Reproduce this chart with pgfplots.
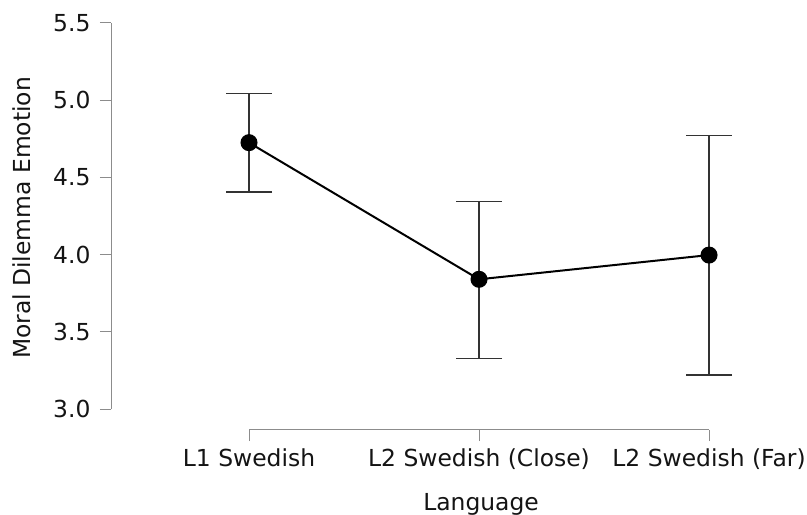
\documentclass[border=0pt]{standalone}
\usepackage{pgfplots}
\pgfplotsset{compat=1.18}
\usepackage{fontspec}
\setmainfont{DejaVu Sans}
\begin{document}
\begin{tikzpicture}
\begin{axis}[
  at={(111bp,85bp)}, anchor=south west,
  scale only axis, width=679bp, height=407bp,
  xmin=-0.6, xmax=2.352, ymin=2.864, ymax=5.5,
  clip=false,
  axis x line*=bottom, axis y line*=left,
  axis line style={draw=none},
  xtick={0,1,2},
  xticklabels={L1 Swedish, L2 Swedish (Close), L2 Swedish (Far)},
  ytick={3,3.5,4,4.5,5,5.5},
  /pgf/number format/assume math mode=true,
  tick align=outside, major tick length=11bp,
  tick style={draw=black!45, line width=1bp},
  ticklabel style={font=\fontsize{23.5}{28}\selectfont, text=black!92},
  yticklabel style={xshift=-6bp, /pgf/number format/fixed, /pgf/number format/fixed zerofill, /pgf/number format/precision=1},
  xticklabel style={yshift=-4bp},
  label style={font=\fontsize{23.5}{28}\selectfont, text=black!92},
  xlabel={Language}, ylabel={Moral Dilemma Emotion},
  xlabel style={at={(axis description cs:0.545,-0.1975)}, anchor=base},
  ylabel style={at={(axis description cs:-0.1183,0.521)}, anchor=base, rotate=0},
]
\draw[black!45, line width=1bp] (axis cs:-0.6,3) -- (axis cs:-0.6,5.5);
\draw[black!45, line width=1bp] (axis cs:0,2.864) -- (axis cs:2,2.864);
\addplot[black, line width=2bp, mark=*, mark size=7.5bp, mark options={fill=black},
  error bars/.cd, y dir=both, y explicit,
  error bar style={line width=1.4bp, color=black!80},
  error mark options={rotate=90, mark size=23bp, line width=1.4bp, black!80}]
  table[x=x, y=y, y error plus=ep, y error minus=em] {
  x y ep em
  0 4.725 0.317 0.320
  1 3.840 0.505 0.512
  2 3.997 0.776 0.777
  };
\end{axis}
\pgfresetboundingbox
\path[use as bounding box] (0,0) rectangle (807bp,515bp);
\end{tikzpicture}
\end{document}
